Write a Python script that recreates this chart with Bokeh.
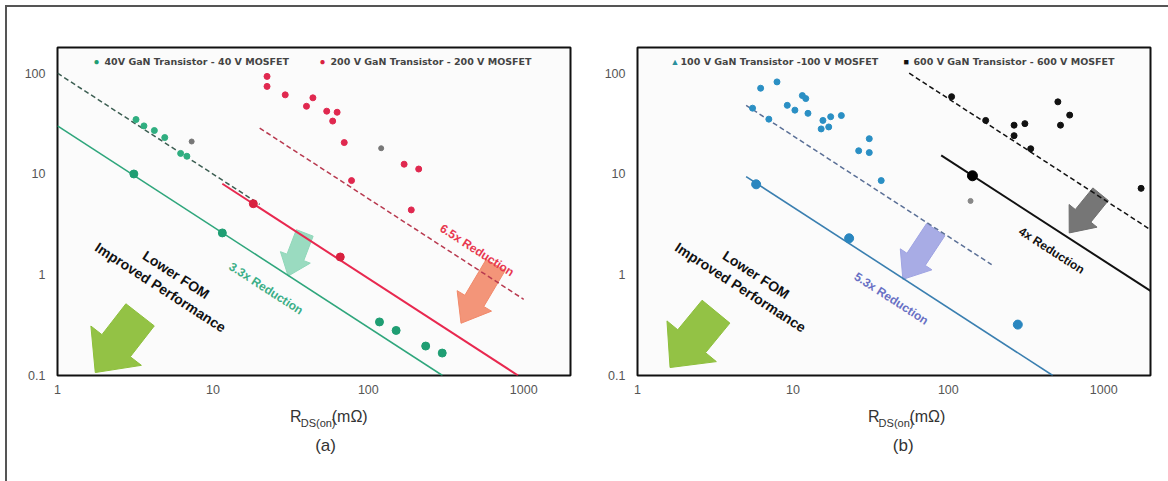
import math
from bokeh.plotting import figure
from bokeh.layouts import row, column
from bokeh.models import Label, FixedTicker, Range1d, CustomJSTickFormatter
from bokeh.embed import file_html
from bokeh.resources import INLINE

# ---------------- data ----------------
x_ticks = [1, 10, 100, 1000]
y_ticks = [0.1, 1, 10, 100]
x_limits = [1, 2000]
y_limits = [0.1, 180]

# panel (a)
gan40_x = [3.1, 11.5, 118, 151, 234, 299]
gan40_y = [10.0, 2.6, 0.34, 0.28, 0.196, 0.167]
mos40_x = [3.2, 3.6, 4.2, 4.9, 6.2, 6.8]
mos40_y = [34.7, 30.0, 27.0, 23.0, 16.0, 15.0]
gan200_x = [18.2, 66]
gan200_y = [5.07, 1.5]
mos200_x = [22.3, 22.3, 29.2, 44, 40, 54, 63, 59, 70, 78, 170, 211, 189]
mos200_y = [93, 74, 61, 57, 47, 42, 41, 33.5, 20.5, 8.6, 12.5, 11.2, 4.4]
grey_a_x = [7.3, 121]
grey_a_y = [21, 18]

line_gan40_x = [1, 300]
line_gan40_y = [30, 0.1]
line_mos40_x = [1, 20]
line_mos40_y = [100, 5.0]
line_gan200_x = [11.5, 920]
line_gan200_y = [8.0, 0.1]
line_mos200_x = [20, 1000]
line_mos200_y = [28.5, 0.57]

# panel (b)
gan100_x = [5.8, 23, 280]
gan100_y = [7.9, 2.3, 0.32]
mos100_x = [5.5, 7.0, 6.2, 7.9, 11.5, 12.1, 9.2, 10.3, 12.5, 15.6, 17.5, 20.5, 15.2, 17, 31, 26.5, 31, 37]
mos100_y = [45, 35, 71, 82, 60, 56, 48, 43, 40, 34, 37, 38, 28, 29.3, 22.4, 17, 16.3, 8.6]
gan600_x = [143]
gan600_y = [9.6]
mos600_x = [105, 174, 265, 339, 265, 311, 507, 604, 527, 1740]
mos600_y = [58.5, 34, 24, 17.8, 30.5, 31.6, 52, 38.4, 30.5, 7.2]
grey_b_x = [139]
grey_b_y = [5.4]

line_gan100_x = [5, 470]
line_gan100_y = [9.4, 0.1]
line_mos100_x = [5, 190]
line_mos100_y = [48, 1.26]
line_gan600_x = [90, 2000]
line_gan600_y = [15.3, 0.69]
line_mos600_x = [56, 2000]
line_mos600_y = [100, 2.8]

legend_a = ["40V GaN Transistor - 40 V MOSFET", "200 V GaN Transistor - 200 V MOSFET"]
legend_b = ["100 V GaN Transistor -100 V MOSFET", "600 V GaN Transistor - 600 V MOSFET"]

FONT = "Liberation Sans"
PX_X = 155.5   # pixels per x decade
PX_Y = 100.7   # pixels per y decade
ANG = -math.atan(PX_Y / PX_X)


def block_arrow(tail, tip, shaft_w, head_w, head_len):
    tx, ty = math.log10(tail[0]) * PX_X, math.log10(tail[1]) * PX_Y
    hx, hy = math.log10(tip[0]) * PX_X, math.log10(tip[1]) * PX_Y
    dx, dy = hx - tx, hy - ty
    L = math.hypot(dx, dy)
    ux, uy = dx / L, dy / L
    nx, ny = -uy, ux
    bx, by = hx - ux * head_len, hy - uy * head_len
    pts = [
        (tx + nx * shaft_w / 2, ty + ny * shaft_w / 2),
        (bx + nx * shaft_w / 2, by + ny * shaft_w / 2),
        (bx + nx * head_w / 2, by + ny * head_w / 2),
        (hx, hy),
        (bx - nx * head_w / 2, by - ny * head_w / 2),
        (bx - nx * shaft_w / 2, by - ny * shaft_w / 2),
        (tx - nx * shaft_w / 2, ty - ny * shaft_w / 2),
    ]
    xs = [10 ** (px / PX_X) for px, _ in pts]
    ys = [10 ** (py / PX_Y) for _, py in pts]
    return xs, ys


def make_fig(width, bl, br):
    p = figure(width=width, height=398, x_axis_type="log", y_axis_type="log",
               x_range=Range1d(*x_limits), y_range=Range1d(*y_limits),
               output_backend="svg", toolbar_location=None,
               min_border_left=bl, min_border_right=br, min_border_top=40, min_border_bottom=30)
    p.background_fill_color = "#fbfbfb"
    p.border_fill_color = "white"
    p.outline_line_color = "#111111"
    p.outline_line_width = 2
    p.grid.visible = False
    fmt = CustomJSTickFormatter(code="return String(tick);")
    p.xaxis.ticker = FixedTicker(ticks=x_ticks, minor_ticks=[])
    p.yaxis.ticker = FixedTicker(ticks=y_ticks, minor_ticks=[])
    for ax in (p.xaxis[0], p.yaxis[0]):
        ax.formatter = fmt
        ax.axis_line_color = None
        ax.major_tick_line_color = None
        ax.minor_tick_line_color = None
        ax.major_label_text_font = FONT
        ax.major_label_text_font_size = "12.5px"
        ax.major_label_text_color = "#555555"
    p.xaxis.major_label_standoff = 3
    p.yaxis.major_label_standoff = 6
    return p


def make_caption(width, tag):
    c = figure(width=width, height=76, x_range=Range1d(0, width), y_range=Range1d(0, 76),
               output_backend="svg", toolbar_location=None,
               x_axis_location=None, y_axis_location=None, min_border=0)
    c.outline_line_color = None
    c.background_fill_color = "white"
    c.border_fill_color = "white"
    c.grid.visible = False
    for x, y, t, s in [(262, 65, "R", "16px"), (274, 59, "DS(on)", "11px"), (309, 65, "(mΩ)", "16px")]:
        c.add_layout(Label(x=x, y=y, text=t, text_color="#333333", text_font=FONT,
                           text_font_size=s, text_align="left", text_baseline="middle"))
    c.add_layout(Label(x=302, y=36, text=tag, text_color="#333333", text_font=FONT,
                       text_font_size="17px", text_align="center", text_baseline="middle"))
    return c


def rot_label(p, x, y, text, color, size="12px", bold=True):
    p.add_layout(Label(x=x, y=y, text=text, angle=ANG, text_align="center",
                       text_baseline="middle", text_color=color, text_font=FONT,
                       text_font_size=size, text_font_style="bold" if bold else "normal"))


def screen_label(p, x, y, text, color="#333333", size="12px", style="normal", font=FONT):
    p.add_layout(Label(x=x, y=y, x_units="screen", y_units="screen", text=text,
                       text_color=color, text_font=font, text_font_size=size,
                       text_font_style=style, text_align="left", text_baseline="middle"))


def common_text(p, lime_tail, lime_tip):
    xs, ys = block_arrow(lime_tail, lime_tip, 36, 64, 34)
    p.patch(xs, ys, fill_color="#8dbf3b", line_color="#8dbf3b", fill_alpha=0.95)
    rot_label(p, 5.8, 1.0, "Lower FOM", "#111111", "14px")
    rot_label(p, 4.6, 0.75, "Improved Performance", "#111111", "14px")


# ---------------- panel (a) ----------------
pa = make_fig(578, 50, 15)
common_text(pa, (3.4, 0.40), (1.75, 0.107))

xs, ys = block_arrow((39, 2.6), (30.5, 0.97), 18, 32, 20)
pa.patch(xs, ys, fill_color="#8fd7b9", line_color="#8fd7b9", fill_alpha=0.9)
xs, ys = block_arrow((660, 1.25), (395, 0.33), 22, 40, 26)
pa.patch(xs, ys, fill_color="#f2896a", line_color="#f2896a", fill_alpha=0.9)

pa.line(line_gan40_x, line_gan40_y, line_color="#2fa67c", line_width=1.6)
pa.line(line_gan200_x, line_gan200_y, line_color="#e8284f", line_width=2)
pa.line(line_mos40_x, line_mos40_y, line_color="#3c5e52", line_width=1.5, line_dash="5 3")
pa.line(line_mos200_x, line_mos200_y, line_color="#b8394f", line_width=1.5, line_dash="5 3")

pa.scatter(grey_a_x, grey_a_y, size=5, color="#777777")
pa.scatter(mos40_x, mos40_y, size=6, color="#2fae80")
pa.scatter(gan40_x, gan40_y, size=8, color="#1f9e73")
pa.scatter(mos200_x, mos200_y, size=6, color="#e0284f")
pa.scatter(gan200_x, gan200_y, size=8, color="#d8213f")

rot_label(pa, 22, 0.73, "3.3x Reduction", "#3aae86", "12px")
rot_label(pa, 500, 1.75, "6.5x Reduction", "#e8384f", "12px")

screen_label(pa, 36, 314, "●", "#1f9e73", "10px")
screen_label(pa, 47, 314, legend_a[0], "#444444", "9.5px", "bold", "DejaVu Sans")
screen_label(pa, 262, 314, "●", "#d8213f", "10px")
screen_label(pa, 273, 314, legend_a[1], "#444444", "9.5px", "bold", "DejaVu Sans")

# ---------------- panel (b) ----------------
pb = make_fig(583, 52, 18)
common_text(pb, (3.2, 0.43), (1.62, 0.12))

xs, ys = block_arrow((83, 2.8), (51, 0.9), 22, 38, 24)
pb.patch(xs, ys, fill_color="#9ea3e2", line_color="#9ea3e2", fill_alpha=0.9)
xs, ys = block_arrow((955, 6.3), (600, 2.6), 20, 36, 22)
pb.patch(xs, ys, fill_color="#6f6f6f", line_color="#6f6f6f", fill_alpha=0.95)

pb.line(line_gan100_x, line_gan100_y, line_color="#3a7fb0", line_width=1.6)
pb.line(line_mos100_x, line_mos100_y, line_color="#5a6f96", line_width=1.5, line_dash="5 3")
pb.line(line_gan600_x, line_gan600_y, line_color="#111111", line_width=2)
pb.line(line_mos600_x, line_mos600_y, line_color="#111111", line_width=1.5, line_dash="5 3")

pb.scatter(grey_b_x, grey_b_y, size=5, color="#888888")
pb.scatter(mos100_x, mos100_y, size=6, color="#2a8fc4")
pb.scatter(gan100_x, gan100_y, size=9, color="#2a86bf")
pb.scatter(mos600_x, mos600_y, size=6, color="#111111")
pb.scatter(gan600_x, gan600_y, size=10, color="#000000")

rot_label(pb, 43, 0.58, "5.3x Reduction", "#6870c4", "12px")
rot_label(pb, 462, 1.74, "4x Reduction", "#111111", "12px")

screen_label(pb, 33, 314, "▲", "#2a8f9c", "9px")
screen_label(pb, 43, 314, legend_b[0], "#444444", "9.5px", "bold", "DejaVu Sans")
screen_label(pb, 266, 314, "■", "#111111", "9px")
screen_label(pb, 276, 314, legend_b[1], "#444444", "9.5px", "bold", "DejaVu Sans")

ca = make_caption(578, "(a)")
cb = make_caption(583, "(b)")

layout = row(column(pa, ca), column(pb, cb), margin=(5, 0, 0, 5),
             styles={"border-left": "2px solid #555555", "border-top": "2px solid #555555"})

open("out.html", "w").write(file_html(layout, INLINE))
